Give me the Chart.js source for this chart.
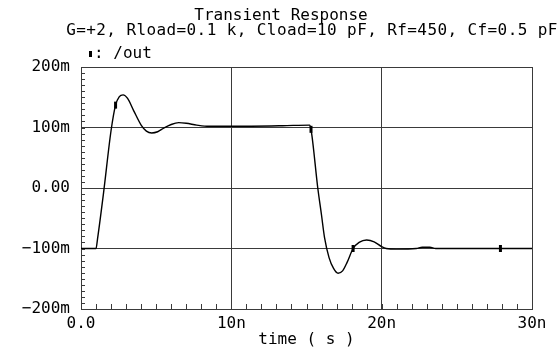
<!DOCTYPE html>
<html>
<head>
<meta charset="utf-8">
<script src="https://cdn.jsdelivr.net/npm/chart.js@4"></script>
<style>
  html, body { margin: 0; padding: 0; background: #fff; }
  canvas { display: block; }
</style>
</head>
<body>
<canvas id="tran" width="559" height="349"></canvas>
<script>
// time in ns, /out in mV
const timeNs = [0, 1.0, 1.1, 1.5, 2.0, 2.3, 2.55, 2.8, 3.1, 3.5, 4.0, 4.35, 4.7, 5.1, 5.5, 6.0, 6.5, 7.0, 7.7, 8.5, 10,
  13.4, 15.2, 15.3, 15.75, 16.0, 16.2, 16.5, 16.8, 17.1, 17.4, 17.7, 18.1, 18.5, 19.0, 19.5, 20.0, 20.3, 21,
  22.3, 22.7, 23.2, 23.6, 27.9, 30];
const outMv = [-100, -100, -84, -8, 95, 137, 151, 154, 148, 128, 104, 94, 91, 93, 99, 105, 108, 107, 104, 102, 102,
  103, 104, 97, 0, -45, -82, -115, -133, -141, -137, -123, -100, -90, -86, -89, -97, -100, -101,
  -100, -98, -98, -100, -100, -100];
// marker positions along the trace (ns)
const markerNs = [2.3, 15.3, 18.1, 27.9];

const xTicks = [0, 10, 20, 30];
const xTickLabels = ['0.0', '10n', '20n', '30n'];
const yTicks = [-200, -100, 0, 100, 200];
const yTickLabels = ['\u2212200m', '\u2212100m', '0.00', '100m', '200m'];

const FONT = 'DejaVu Sans Mono';
const INK = '#000';
const GRID = '#3a3a3a';

const trace = timeNs.map((t, i) => ({ x: t, y: outMv[i] }));
const markers = markerNs.map(t => ({ x: t, y: outMv[timeNs.indexOf(t)] }));

// header text, legend entry and small inner tick marks
const decorations = {
  id: 'decorations',
  afterDraw(chart) {
    const { ctx, chartArea: a, scales: { x, y } } = chart;
    ctx.save();
    ctx.fillStyle = INK;
    ctx.font = '16px "' + FONT + '"';
    ctx.textBaseline = 'middle';
    ctx.textAlign = 'center';
    ctx.fillText('Transient Response', 281, 16);
    ctx.letterSpacing = '0.4px';
    ctx.fillText('G=+2, Rload=0.1 k, Cload=10 pF, Rf=450, Cf=0.5 pF', 312, 31);
    ctx.letterSpacing = '0px';

    ctx.textAlign = 'left';
    ctx.fillRect(89, 51, 3, 6);
    ctx.fillText(': ' + chart.data.datasets[0].label, 94, 54);

    ctx.strokeStyle = GRID;
    ctx.lineWidth = 1;
    ctx.beginPath();
    for (let v = yTicks[0]; v <= yTicks[yTicks.length - 1]; v += 10) {
      const py = Math.round(y.getPixelForValue(v)) + 0.5;
      ctx.moveTo(a.left, py);
      ctx.lineTo(a.left + 4, py);
    }
    for (let t = xTicks[0]; t <= xTicks[xTicks.length - 1]; t += 1) {
      const px = Math.round(x.getPixelForValue(t)) + 0.5;
      ctx.moveTo(px, a.bottom);
      ctx.lineTo(px, a.bottom - 5);
    }
    ctx.stroke();
    ctx.restore();
  }
};

new Chart(document.getElementById('tran'), {
  type: 'line',
  data: {
    datasets: [
      {
        label: '/out',
        data: trace,
        borderColor: INK,
        borderWidth: 1.4,
        pointRadius: 0,
        cubicInterpolationMode: 'monotone',
        fill: false
      },
      {
        label: 'markers',
        data: markers,
        showLine: false,
        pointStyle: 'line',
        rotation: 90,
        pointRadius: 3.5,
        pointBorderWidth: 3,
        pointBorderColor: INK
      }
    ]
  },
  options: {
    responsive: false,
    animation: false,
    layout: { padding: { top: 67, right: 27, bottom: 0, left: 0 } },
    plugins: { legend: { display: false }, tooltip: { enabled: false } },
    scales: {
      x: {
        type: 'linear',
        min: 0,
        max: 30,
        afterFit(scale) { scale.height = 40; },
        afterBuildTicks(scale) { scale.ticks = xTicks.map(v => ({ value: v })); },
        ticks: {
          autoSkip: false,
          maxRotation: 0,
          padding: 5,
          color: INK,
          font: { family: FONT, size: 16 },
          callback: (v) => xTickLabels[xTicks.indexOf(v)]
        },
        grid: { color: GRID, lineWidth: 1, drawTicks: false },
        border: { color: GRID, width: 1 },
        title: {
          display: true,
          text: 'time ( s )',
          color: INK,
          font: { family: FONT, size: 16 },
          padding: { top: 0, bottom: 0 }
        }
      },
      y: {
        min: -200,
        max: 200,
        afterFit(scale) { scale.width = 81; },
        afterBuildTicks(scale) { scale.ticks = yTicks.map(v => ({ value: v })); },
        ticks: {
          autoSkip: false,
          padding: 11,
          color: INK,
          font: { family: FONT, size: 16 },
          callback: (v) => yTickLabels[yTicks.indexOf(v)]
        },
        grid: { color: GRID, lineWidth: 1, drawTicks: false },
        border: { color: GRID, width: 1 }
      }
    }
  },
  plugins: [decorations]
});
</script>
</body>
</html>
